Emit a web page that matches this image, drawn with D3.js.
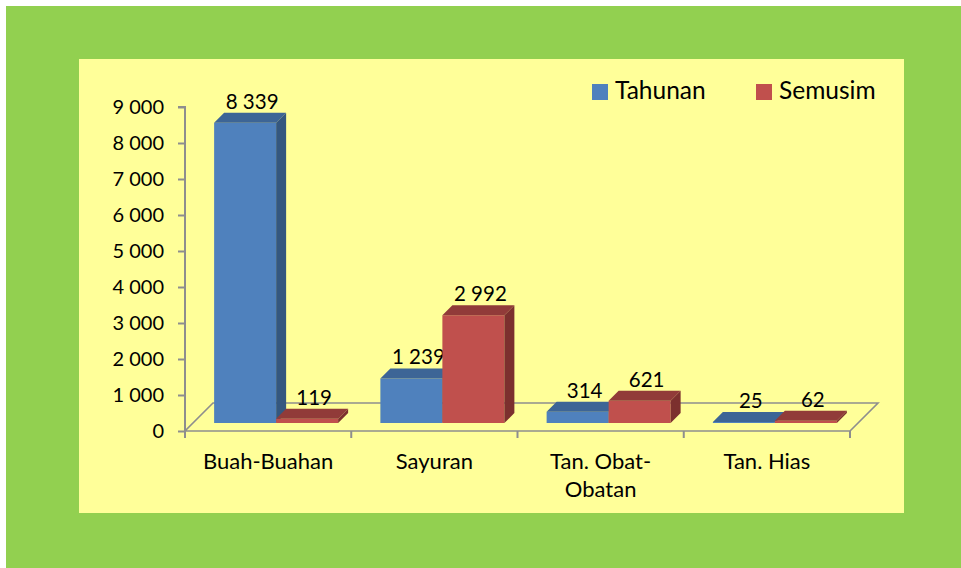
<!DOCTYPE html>
<html>
<head>
<meta charset="utf-8">
<script src="https://cdn.jsdelivr.net/npm/d3@7"></script>
<style>
  html, body { margin: 0; padding: 0; background: #ffffff; }
  svg { display: block; }
  text { font-family: Lato, "Open Sans", sans-serif; fill: #000; }
</style>
</head>
<body>
<svg id="chart" width="961" height="568"></svg>
<script>
// Categories and series
const categories = [["Buah-Buahan"], ["Sayuran"], ["Tan. Obat-", "Obatan"], ["Tan. Hias"]];
const seriesNames = ["Tahunan", "Semusim"];
const tahunan = [8339, 1239, 314, 25];
const semusim = [119, 2992, 621, 62];
const yTicks = [0, 1000, 2000, 3000, 4000, 5000, 6000, 7000, 8000, 9000];

const colors = {
  Tahunan: { front: "#4f81bd", top: "#3d6596", side: "#34577f" },
  Semusim: { front: "#c0504d", top: "#913b39", side: "#7c302e" }
};

const svg = d3.select("#chart");
const W = 961, H = 568;

// Backgrounds
svg.append("rect").attr("x", 6).attr("y", 6).attr("width", W - 6).attr("height", H - 6).attr("fill", "#92d050");
svg.append("rect").attr("x", 79).attr("y", 59).attr("width", 825).attr("height", 454).attr("fill", "#ffff99");

const fmt = d3.formatLocale({ decimal: ",", thousands: " ", grouping: [3], currency: ["", ""] }).format(",d");

// Front plane geometry
const x0 = 185, x1 = 850, yBase = 431, yTop = 107;
const floorDepth = 28;     // full depth of the floor
const barZ = 8;            // depth at which the bar front faces sit
const barDepth = 10;       // thickness of each bar
const barW = 62;

const x = d3.scaleBand().domain(d3.range(categories.length)).range([x0, x1]).paddingInner(0).paddingOuter(0);
const y = d3.scaleLinear().domain([0, 9000]).range([yBase, yTop]);

// projection of a point with depth z
const P = (px, py, z) => [px + z, py - z];

const axisColor = "#8e8e8e";
const g = svg.append("g");

// Floor outline
const floor = [P(x0, yBase, 0), P(x1, yBase, 0), P(x1, yBase, floorDepth), P(x0, yBase, floorDepth)];
g.append("path")
  .attr("d", d3.line()(floor) + "Z")
  .attr("fill", "none")
  .attr("stroke", axisColor)
  .attr("stroke-width", 1.6);

// Value axis
const yAxis = d3.axisLeft(y).tickValues(yTicks).tickSize(7).tickPadding(14).tickFormat(fmt);
const ya = g.append("g").attr("transform", `translate(${x0},0)`).call(yAxis);
ya.select(".domain").attr("stroke", axisColor).attr("stroke-width", 2).attr("d", `M-7,${yTop}H0V${yBase}`);
ya.selectAll(".tick line").attr("stroke", axisColor).attr("stroke-width", 2);
ya.selectAll(".tick text").attr("font-size", 20).attr("font-family", "Lato, sans-serif").attr("fill", "#000");

// Category axis ticks
const catTicks = d3.range(categories.length + 1).map(i => x0 + i * x.bandwidth());
g.selectAll("line.cat").data(catTicks).join("line")
  .attr("x1", d => d).attr("x2", d => d)
  .attr("y1", yBase).attr("y2", yBase + 7)
  .attr("stroke", axisColor).attr("stroke-width", 2);

// Category labels
const catG = g.selectAll("text.cat").data(categories).join("text")
  .attr("class", "cat")
  .attr("text-anchor", "middle")
  .attr("font-size", 22)
  .attr("transform", (d, i) => `translate(${x(i) + x.bandwidth() / 2},${yBase + 38})`);
catG.selectAll("tspan").data(d => d).join("tspan")
  .attr("x", 0).attr("dy", (d, i) => i === 0 ? 0 : 28)
  .text(d => d);

// Bars
const sub = d3.scaleBand().domain(seriesNames).range([0, barW * 2]);
const bars = [];
categories.forEach((c, i) => {
  [tahunan[i], semusim[i]].forEach((v, j) => {
    bars.push({ i, s: seriesNames[j], v });
  });
});

const barG = g.append("g");
bars.forEach(b => {
  const band = x.bandwidth();
  const left = x(b.i) + (band - barW * 2) / 2 + sub(b.s);
  const right = left + barW;
  const yb = y(0), yt = y(b.v);
  const c = colors[b.s];
  const z0 = barZ, z1 = barZ + barDepth;
  const front = [P(left, yb, z0), P(right, yb, z0), P(right, yt, z0), P(left, yt, z0)];
  const top = [P(left, yt, z0), P(right, yt, z0), P(right, yt, z1), P(left, yt, z1)];
  const side = [P(right, yb, z0), P(right, yb, z1), P(right, yt, z1), P(right, yt, z0)];
  barG.append("path").attr("d", d3.line()(front) + "Z").attr("fill", c.front);
  barG.append("path").attr("d", d3.line()(side) + "Z").attr("fill", c.side);
  barG.append("path").attr("d", d3.line()(top) + "Z").attr("fill", c.top);
  // value label above the bar
  const lp = P((left + right) / 2, yt, barZ + barDepth / 2);
  barG.append("text")
    .attr("x", lp[0] + 2)
    .attr("y", lp[1] - 9)
    .attr("text-anchor", "middle")
    .attr("font-size", 20.5)
    .text(fmt(b.v));
});

// Legend
const legend = svg.append("g").attr("transform", "translate(592,84)");
const legX = [0, 164];
seriesNames.forEach((s, k) => {
  const lg = legend.append("g").attr("transform", `translate(${legX[k]},0)`);
  lg.append("rect").attr("width", 16).attr("height", 16).attr("fill", colors[s].front);
  lg.append("text").attr("x", 23).attr("y", 15).attr("font-size", 24.5).text(s);
});
</script>
</body>
</html>
